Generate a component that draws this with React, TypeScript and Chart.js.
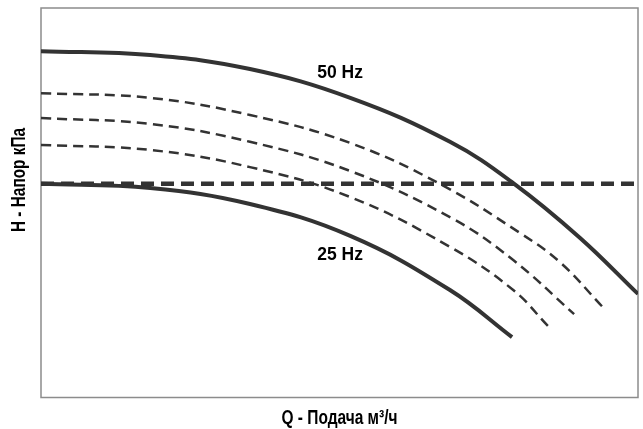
import { useEffect, useRef } from 'react';
import { Chart, registerables } from 'chart.js';

Chart.register(...registerables);

// Flow Q (0..100 % of axis) and head H (0..100 % of axis)
const hz50Q = [0, 18.3, 35.0, 51.8, 68.5, 79.1, 90.3, 100];
const hz50H = [88.9, 87.9, 84.3, 76.9, 65.6, 55.0, 40.9, 26.5];

const midAQ = [0, 18.3, 35.0, 51.8, 66.8, 80.2, 86.9, 94.1];
const midAH = [78.1, 76.9, 72.5, 65.3, 54.8, 42.2, 34.7, 23.1];

const midBQ = [0, 18.3, 35.0, 51.8, 69.0, 79.1, 89.3];
const midBH = [71.7, 70.2, 65.6, 58.1, 45.8, 35.2, 21.3];

const midCQ = [0, 18.3, 35.0, 51.8, 68.5, 79.1, 84.9];
const midCH = [64.8, 63.5, 59.1, 51.4, 38.6, 27.5, 18.3];

const hz25Q = [0, 18.3, 35.0, 51.8, 68.5, 78.9];
const hz25H = [54.8, 53.7, 49.6, 41.4, 27.5, 15.4];

const refQ = [0, 100];
const refH = [54.8, 54.8];

const curveLabels = ['50 Hz', '25 Hz'];
const curveLabelQ = [50.1, 50.1];
const curveLabelH = [83.3, 36.5];

const xTitle = 'Q - Подача м³/ч';
const yTitle = 'H - Напор кПа';

const pts = (q: number[], h: number[]) => q.map((v, i) => ({ x: v, y: h[i] }));

function condensedText(ctx: CanvasRenderingContext2D, text: string, x: number, y: number, width: number, angle: number) {
  const w = ctx.measureText(text).width;
  ctx.save();
  ctx.translate(x, y);
  ctx.rotate(angle);
  ctx.scale(width / w, 1);
  ctx.fillText(text, 0, 0);
  ctx.restore();
}

export default function App() {
  const ref = useRef<HTMLCanvasElement | null>(null);

  useEffect(() => {
    document.body.style.margin = '0';
    const canvas = ref.current;
    if (!canvas) return;

    const overlay = {
      id: 'overlay',
      beforeDatasetsDraw(chart: any) {
        const { ctx, chartArea } = chart;
        ctx.save();
        ctx.strokeStyle = '#8c8c8c';
        ctx.lineWidth = 1.5;
        ctx.strokeRect(chartArea.left, chartArea.top, chartArea.right - chartArea.left, chartArea.bottom - chartArea.top + 0.5);
        ctx.restore();
      },
      afterDatasetsDraw(chart: any) {
        const { ctx, chartArea, scales } = chart;
        ctx.save();
        ctx.fillStyle = '#000';
        ctx.textAlign = 'center';
        ctx.textBaseline = 'middle';
        ctx.font = 'bold 17.5px "Liberation Sans", Arial, sans-serif';
        curveLabels.forEach((t, i) => {
          ctx.fillText(t, scales.x.getPixelForValue(curveLabelQ[i]), scales.y.getPixelForValue(curveLabelH[i]));
        });
        ctx.font = 'bold 19.5px "Liberation Sans", Arial, sans-serif';
        condensedText(ctx, xTitle, (chartArea.left + chartArea.right) / 2, 419, 116, 0);
        condensedText(ctx, yTitle, 20, 180, 104, -Math.PI / 2);
        ctx.restore();
      },
    };

    const solid = (q: number[], h: number[]) => ({
      data: pts(q, h),
      borderColor: '#333',
      borderWidth: 4,
      pointRadius: 0,
      tension: 0.4,
      fill: false,
    });
    const thinDash = (q: number[], h: number[]) => ({
      data: pts(q, h),
      borderColor: '#333',
      borderWidth: 2.5,
      borderDash: [10, 6],
      pointRadius: 0,
      tension: 0.4,
      fill: false,
    });

    const chart = new Chart(canvas, {
      type: 'line',
      data: {
        datasets: [
          solid(hz50Q, hz50H),
          thinDash(midAQ, midAH),
          thinDash(midBQ, midBH),
          thinDash(midCQ, midCH),
          solid(hz25Q, hz25H),
          {
            data: pts(refQ, refH),
            borderColor: '#333',
            borderWidth: 4.5,
            borderDash: [13, 7],
            pointRadius: 0,
            fill: false,
          },
        ],
      },
      options: {
        animation: false,
        responsive: true,
        maintainAspectRatio: false,
        layout: { padding: { left: 41, top: 8, right: 5, bottom: 32 } },
        plugins: { legend: { display: false }, tooltip: { enabled: false } },
        scales: {
          x: { type: 'linear', min: 0, max: 100, display: false },
          y: { type: 'linear', min: 0, max: 100, display: false },
        },
      },
      plugins: [overlay],
    });
    return () => chart.destroy();
  }, []);

  return (
    <div style={{ position: 'relative', width: 643, height: 429 }}>
      <canvas ref={ref} />
    </div>
  );
}
